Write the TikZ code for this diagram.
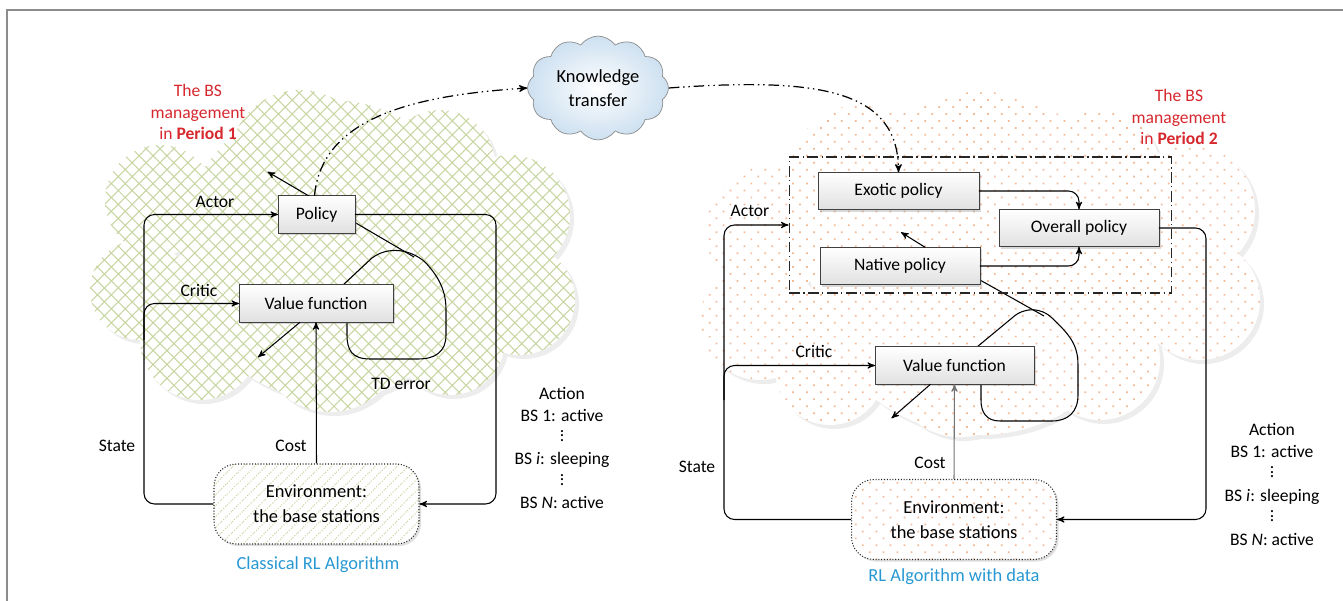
\documentclass[tikz,border=0pt]{standalone}
\usepackage{fontspec}
\setmainfont{Carlito}
\usetikzlibrary{calc}
\usetikzlibrary{arrows}
\usetikzlibrary{patterns,patterns.meta}
\usetikzlibrary{shapes.symbols,shadows,backgrounds}

\definecolor{bsred}{RGB}{214,40,46}
\definecolor{algblue}{RGB}{40,152,210}
\definecolor{hatchgreen}{RGB}{200,214,162}
\definecolor{dotpeach}{RGB}{243,186,152}
\definecolor{ktblue}{RGB}{205,224,240}

\newcommand{\vdts}{\raisebox{1pt}{\vbox{\baselineskip=2.6pt\lineskiplimit=-10pt\lineskip=0pt\hbox{.}\hbox{.}\hbox{.}}}}

\def\cloudLlist{300/160/70, 440/165/55, 510/215/60, 520/300/55, 450/340/55, 330/340/72, 200/340/60, 140/290/50, 160/200/55, 330/250/150}
\def\cloudRlist{980/165/75, 860/175/70, 770/230/65, 760/320/60, 830/370/55, 960/365/72, 1100/360/60, 1200/300/60, 1190/210/65, 1100/170/60, 980/265/170}

\tikzset{
  pbox/.style={draw=black!75, line width=0.5pt, top color=white, bottom color=black!12,
    drop shadow={shadow xshift=1.2pt, shadow yshift=-1.2pt, opacity=0.3},
    minimum height=0.75cm, inner sep=1pt, outer sep=0pt},
  envbox/.style={draw=black!85, line width=0.6pt, densely dotted, rounded corners=0.45cm,
    minimum width=4.1cm, minimum height=1.6cm, align=center, font=\fontsize{10.5}{14}\selectfont,
    drop shadow={shadow xshift=1.2pt, shadow yshift=-1.2pt, opacity=0.25}, preaction={fill=white}},
  grpbox/.style={draw=black!85, line width=0.6pt, dash pattern=on 6pt off 2pt on 0.8pt off 2pt,
    minimum width=7.66cm, minimum height=2.72cm, inner sep=0pt},
  ktcloud/.style={cloud, cloud puffs=12, cloud puff arc=110, aspect=1.5, draw=black!45,
    inner color=white, outer color=ktblue, minimum width=2.7cm, minimum height=1.75cm,
    align=center, font=\fontsize{10.5}{14}\selectfont},
  ktflow/.style={->, line width=0.7pt, dash pattern=on 6pt off 2.2pt on 0.8pt off 2.2pt on 0.8pt off 2.2pt},
  redlbl/.style={bsred, align=center},
  bluelbl/.style={algblue, font=\fontsize{10.5}{12.5}\selectfont},
  actlbl/.style={align=center},
  link/.style={->, line width=0.6pt},
}

\begin{document}
\begin{tikzpicture}[x=0.02cm, y=-0.02cm, font=\fontsize{10}{12.5}\selectfont, >=stealth']
\useasboundingbox (0,0) rectangle (1343,601);
\draw[black!45, line width=1pt] (7,601) -- (7,10) -- (1343,10);

\node[ktcloud] (ktr) at (598,88) {Knowledge\\transfer};

\node[redlbl] (perL) at (198,112) {The BS\\management\\in \textbf{Period 1}};
\node[pbox, minimum width=1.54cm] (polL) at (316.5,214.5) {Policy};
\node[pbox, minimum width=3.08cm] (vfL) at (316,303.5) {Value function};
\node[envbox, pattern={Lines[angle=45,distance=4.4pt,line width=0.6pt]}, pattern color=hatchgreen] (envL) at (316.5,504) {Environment:\\the base stations};
\node[bluelbl] (algL) at (318,565) {Classical RL Algorithm};
\node (actorL) at (215,202) {Actor};
\node (criticL) at (199,290) {Critic};
\node (stateL) at (117,446) {State};
\node (costL) at (291,446) {Cost};
\node (tdL) at (401,384) {TD error};
\node[actlbl] (actL) at (562,448) {Action\\BS 1: active\\\vdts\\BS \textit{i}: sleeping\\\vdts\\BS \textit{N}: active};

\node[redlbl] (perR) at (1179,117) {The BS\\management\\in \textbf{Period 2}};
\node[grpbox] (grpR) at (980.5,225) {};
\node[pbox, minimum width=3.22cm] (exoR) at (898.5,191) {Exotic policy};
\node[pbox, minimum width=3.2cm] (ovR) at (1079,228) {Overall policy};
\node[pbox, minimum width=3.2cm] (natR) at (900,266) {Native policy};
\node[pbox, minimum width=3.18cm] (vfR) at (954.5,365.5) {Value function};
\node[envbox, pattern={Dots[angle=45,distance=5.6pt,radius=0.7pt]}, pattern color=dotpeach] (envR) at (954,519.5) {Environment:\\the base stations};
\node[bluelbl] (algR) at (954,577) {RL Algorithm with data};
\node (actorR) at (750,211) {Actor};
\node (criticR) at (814,351) {Critic};
\node (stateR) at (697,467) {State};
\node (costR) at (930,463) {Cost};
\node[actlbl] (actR) at (1272,484.5) {Action\\BS 1: active\\\vdts\\BS \textit{i}: sleeping\\\vdts\\BS \textit{N}: active};

\coordinate (loopL) at (414,257);
\coordinate (loopR) at (1044,316);

\begin{scope}[on background layer]
\fill[black!7, shift={(4,4)}] \foreach \cx/\cy/\r in \cloudLlist {(\cx,\cy) circle [radius=\r]};
\fill[white] \foreach \cx/\cy/\r in \cloudLlist {(\cx,\cy) circle [radius=\r]};
\fill[pattern={Hatch[angle=45,distance=5.6pt,line width=0.6pt]}, pattern color=hatchgreen] \foreach \cx/\cy/\r in \cloudLlist {(\cx,\cy) circle [radius=\r]};
\fill[black!7, shift={(4,4)}] \foreach \cx/\cy/\r in \cloudRlist {(\cx,\cy) circle [radius=\r]};
\fill[white] \foreach \cx/\cy/\r in \cloudRlist {(\cx,\cy) circle [radius=\r]};
\fill[pattern={Dots[angle=45,distance=5.6pt,radius=0.7pt]}, pattern color=dotpeach] \foreach \cx/\cy/\r in \cloudRlist {(\cx,\cy) circle [radius=\r]};

\draw[line width=0.6pt] ($(polL.east)+(0,8)$) -- (loopL);
\draw[line width=0.6pt] (343,285) -- (372,258) .. controls (388,246) and (410,249) .. (425,262) .. controls (440,278) and (446,292) .. (446,310) -- (446,335) .. controls (446,352) and (435,359) .. (418,359) -- (370,359) .. controls (352,359) and (347,350) .. (347,335) -- (347,322);
\draw[line width=0.6pt] ($(natR.east)+(0,14)$) -- (loopR);
\draw[line width=0.6pt] (977,347) -- (1012,318) .. controls (1025,306) and (1042,308) .. (1052,318) .. controls (1070,335) and (1078,345) .. (1078,365) -- (1078,395) .. controls (1078,412) and (1068,421) .. (1052,421) -- (1000,421) .. controls (986,421) and (981,412) .. (981,400) -- (981,384);
\end{scope}

\draw[link, rounded corners=6pt] (envL.west) -| (144,214.5) -- (polL.west);
\draw[link, rounded corners=6pt] (144,340) |- (vfL.west);
\draw[link, rounded corners=6pt] (polL.east) -| (496,504) -- (envL.east);
\draw[link] (envL.north) -- (vfL.south);
\draw[link] ($(vfL.south)+(-16,0)$) -- ++(-42,35);
\draw[link] ($(polL.north)+(-8,0)$) -- ++(-41,-24);
\draw[ktflow] ($(polL.north)+(-2,0)$) .. controls (322,115) and (420,95) .. (ktr.west);

\draw[ktflow] (ktr.east) .. controls (820,77) and (898,90) .. (exoR.north);
\draw[link, rounded corners=6pt] (exoR.east) -| (ovR.north);
\draw[link, rounded corners=6pt] (natR.east) -| (ovR.south);
\draw[link] ($(natR.north)+(25,0)$) -- ++(-24,-15);
\draw[link, rounded corners=6pt] (envR.west) -| (724,225) -- (grpR.west);
\draw[link, rounded corners=6pt] (724,400) |- (vfR.west);
\draw[link, rounded corners=6pt] (ovR.east) -| (1206,519.5) -- (envR.east);
\draw[link, black!55] (envR.north) -- (vfR.south);
\draw[link] ($(vfR.south)+(-24,0)$) -- ++(-39,34);
\end{tikzpicture}
\end{document}
